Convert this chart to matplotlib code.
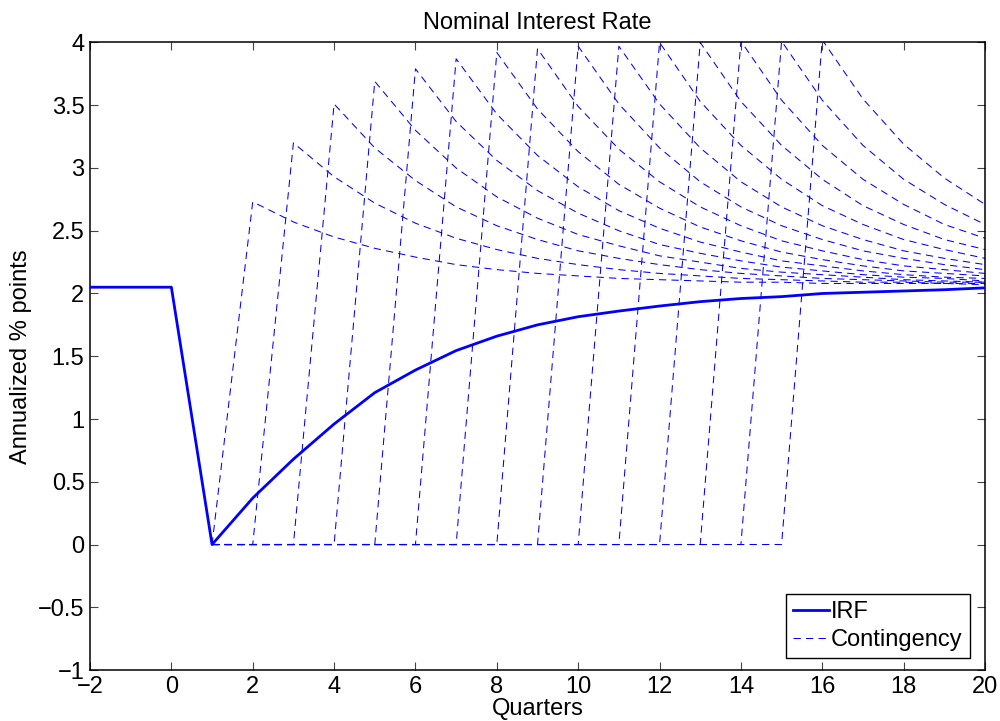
import matplotlib
matplotlib.use("Agg")
import matplotlib.pyplot as plt

plt.rcParams['font.family'] = ['Liberation Sans', 'DejaVu Sans']

# quarters and the impulse response
quarters = list(range(-2, 21))
irf = [2.05, 2.05, 2.05, 0.0, 0.37, 0.68, 0.96, 1.21, 1.39, 1.545, 1.66, 1.75,
       1.815, 1.86, 1.90, 1.935, 1.96, 1.975, 2.0, 2.01, 2.02, 2.03, 2.045]

# contingency paths: stay at zero from quarter 1 to k, then jump at k+1 and decay
contingency_start = 1
contingency_paths = [
    [2.73, 2.57, 2.45, 2.36, 2.29, 2.23, 2.19, 2.16, 2.14, 2.12, 2.11, 2.10, 2.09, 2.09, 2.08, 2.08, 2.08, 2.08, 2.07],
    [3.20, 2.93, 2.72, 2.56, 2.44, 2.35, 2.28, 2.23, 2.19, 2.16, 2.14, 2.12, 2.11, 2.10, 2.09, 2.09, 2.08, 2.08],
    [3.51, 3.16, 2.90, 2.69, 2.54, 2.43, 2.34, 2.28, 2.23, 2.19, 2.16, 2.14, 2.12, 2.11, 2.10, 2.09, 2.09],
    [3.69, 3.30, 3.00, 2.77, 2.60, 2.47, 2.38, 2.30, 2.25, 2.20, 2.17, 2.15, 2.13, 2.11, 2.10, 2.09],
    [3.79, 3.37, 3.06, 2.82, 2.64, 2.50, 2.39, 2.32, 2.26, 2.21, 2.18, 2.15, 2.13, 2.12, 2.10],
    [3.87, 3.43, 3.10, 2.85, 2.66, 2.52, 2.41, 2.33, 2.26, 2.22, 2.18, 2.15, 2.13, 2.12],
    [3.92, 3.47, 3.13, 2.87, 2.68, 2.53, 2.42, 2.33, 2.27, 2.22, 2.18, 2.16, 2.14],
    [3.95, 3.49, 3.15, 2.89, 2.69, 2.54, 2.42, 2.34, 2.27, 2.22, 2.19, 2.16],
    [3.97, 3.51, 3.16, 2.89, 2.69, 2.54, 2.43, 2.34, 2.28, 2.23, 2.19],
    [3.97, 3.51, 3.16, 2.89, 2.69, 2.54, 2.43, 2.34, 2.28, 2.23],
    [4.00, 3.53, 3.18, 2.91, 2.70, 2.55, 2.43, 2.35, 2.28],
    [4.00, 3.53, 3.18, 2.91, 2.70, 2.55, 2.43, 2.35],
    [4.01, 3.54, 3.18, 2.91, 2.71, 2.55, 2.44],
    [4.01, 3.54, 3.18, 2.91, 2.71, 2.55],
    [4.02, 3.55, 3.19, 2.92, 2.71],
]

xticks = list(range(-2, 21, 2))
yticks = [-1, -0.5, 0, 0.5, 1, 1.5, 2, 2.5, 3, 3.5, 4]

fig = plt.figure(figsize=(10, 7.21), dpi=100)
ax = fig.add_axes([0.09, 0.0707, 0.895, 0.8704])

blue = '#0000ff'
ax.plot(quarters, irf, color=blue, lw=2.0, label='IRF', zorder=3)

for i, path in enumerate(contingency_paths):
    k = i + 1
    ys = [0.0] * k + path
    xs = list(range(contingency_start, contingency_start + len(ys)))
    ax.plot(xs, ys, color=blue, lw=0.75, linestyle=(0, (7, 5)),
            label='Contingency' if i == 0 else None, zorder=2)

ax.set_xlim(-2, 20)
ax.set_ylim(-1, 4)
ax.set_xticks(xticks)
ax.set_yticks(yticks)
ax.set_yticklabels(['\u22121', '\u22120.5', '0', '0.5', '1', '1.5', '2', '2.5', '3', '3.5', '4'])
ax.set_xticklabels([('\u2212' + str(-t)) if t < 0 else str(t) for t in xticks])
ax.tick_params(direction='in', length=6, width=0.8, top=True, right=True,
               labelsize=17, pad=4, color='#444444')
for s in ax.spines.values():
    s.set_linewidth(1.1)

ax.set_title('Nominal Interest Rate', fontsize=17, pad=10)
ax.set_xlabel('Quarters', fontsize=17, labelpad=0)
ax.set_ylabel('Annualized % points', fontsize=17, labelpad=4)

leg = ax.legend(loc='lower right', bbox_to_anchor=(0.983, 0.019), borderaxespad=0,
                fontsize=17, fancybox=False, framealpha=1, edgecolor='black',
                handlelength=1.5, handletextpad=0.1, borderpad=0.3, labelspacing=0.25)
leg.get_frame().set_linewidth(1.0)

fig.savefig('out.png', dpi=100)
